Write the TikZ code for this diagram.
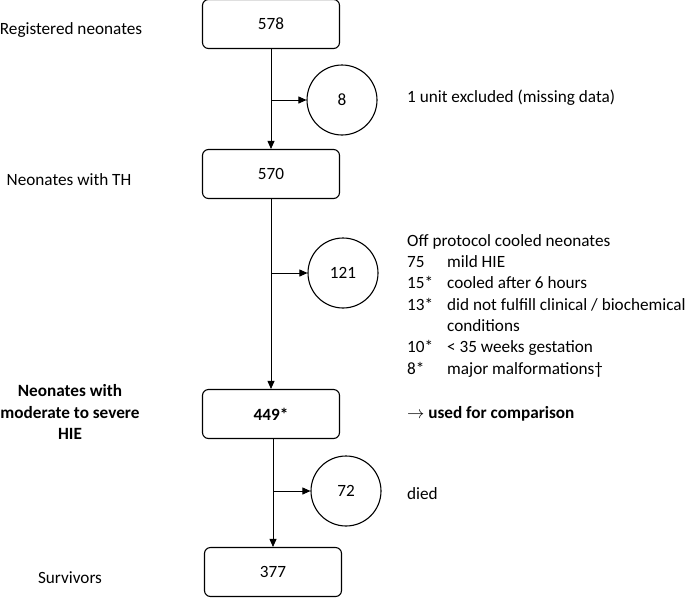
\documentclass[tikz,border=0pt]{standalone}
\usepackage{fontspec}
\setmainfont{Carlito}
\usetikzlibrary{arrows.meta}
\tikzset{
  countbox/.style={rectangle, draw, line width=1.1pt, minimum width=137pt, minimum height=49pt, rounded corners=6pt, inner sep=0pt},
  exclcircle/.style={circle, draw, line width=1.1pt, minimum size=70pt, inner sep=0pt},
  stagelabel/.style={align=center, inner sep=0pt},
  notelabel/.style={anchor=west, inner sep=0pt, align=left},
  flow/.style={line width=0.8pt, -{Triangle[length=8pt,width=7pt]}}
}
\begin{document}
\begin{tikzpicture}[x=1pt, y=-1pt, font=\fontsize{17.2}{21.3}\selectfont]
\useasboundingbox (0,0) rectangle (685,598);

%Boxes
\node (b578) at (271,24) [countbox]{578};
\node (b570) at (271,174) [countbox]{570};
\node (b449) at (271,414) [countbox]{\bfseries 449*};
\node (b377) at (273,572) [countbox]{377};

%Circles
\node (c8) at (342,100) [exclcircle]{8};
\node (c121) at (343,273) [exclcircle]{121};
\node (c72) at (346,491) [exclcircle]{72};

%Stage labels
\node (lReg) at (71,30) [stagelabel]{Registered neonates};
\node (lTH) at (69,180) [stagelabel]{Neonates with TH};
\node (lHIE) at (70,412) [stagelabel, font=\fontsize{17.2}{21.3}\selectfont\bfseries]{Neonates with\\moderate to severe\\HIE};
\node (lSurv) at (70,578) [stagelabel]{Survivors};

%Notes
\node (nUnit) at (407,98) [notelabel]{1 unit excluded (missing data)};
\node (nOff) at (407,306) [notelabel]{%
\begin{tabular}{@{}p{40pt}@{}l@{}}
\multicolumn{2}{@{}l@{}}{Off protocol cooled neonates}\\
75 & mild HIE\\
15* & cooled after 6 hours\\
13* & did not fulfill clinical / biochemical\\
 & conditions\\
10* & {<} 35 weeks gestation\\
8* & major malformations\dag
\end{tabular}};
\node (nComp) at (407,414) [notelabel]{$\rightarrow$ \textbf{used for comparison}};
\node (nDied) at (407,494) [notelabel]{died};

%Links
\draw[flow] (b578) -- (b570);
\draw[flow] (b570) -- (b449);
\draw[flow] (b449.south -| b377.north) -- (b377);
\draw[flow] (b578.south |- c8) -- (c8.west);
\draw[flow] (b570.south |- c121) -- (c121.west);
\draw[flow] (b449.south -| b377.north) |- (c72.west);
\end{tikzpicture}
\end{document}
